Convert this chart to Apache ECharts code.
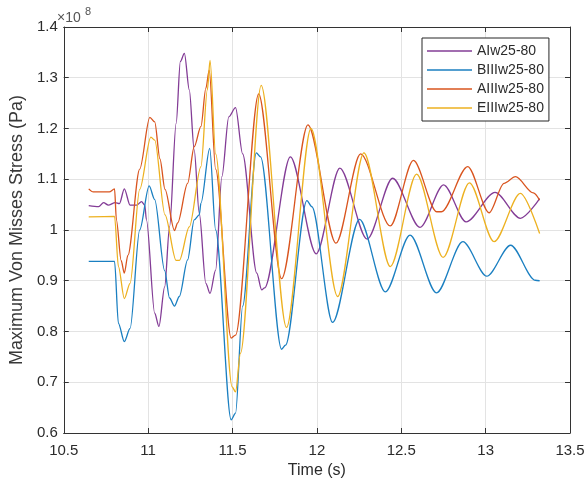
<!DOCTYPE html>
<html>
<head>
<meta charset="utf-8">
<script src="https://cdn.jsdelivr.net/npm/echarts@6.0.0/dist/echarts.min.js"></script>
<style>
html,body{margin:0;padding:0;background:#fff;}
#chart{width:588px;height:485px;}
</style>
</head>
<body>
<div id="chart"></div>
<script>
// Legend names
const seriesNames = ['AIw25-80', 'BIIIw25-80', 'AIIIw25-80', 'EIIIw25-80'];
// x ticks / y ticks (values in units of 1e8 Pa)
const xTicks = [10.5, 11, 11.5, 12, 12.5, 13, 13.5];
const yTicks = [0.6, 0.7, 0.8, 0.9, 1.0, 1.1, 1.2, 1.3, 1.4];

// AIw25-80 (purple)
const timeAI = [10.648,10.707,10.736,10.764,10.805,10.83,10.859,10.893,10.932,10.961,10.98,10.99,11.039,11.064,11.098,11.127,11.166,11.191,11.215,11.244,11.273,11.303,11.342,11.367,11.40,11.437,11.478,11.518,11.56,11.644,11.673,11.69,11.843,11.996,12.136,12.298,12.449,12.611,12.751,12.884,13.056,13.206,13.32];
const valAI  = [1.048,1.046,1.054,1.049,1.054,1.052,1.081,1.049,1.049,1.056,1.049,1.02,0.836,0.81,0.888,1.006,1.21,1.332,1.348,1.276,1.158,1.033,0.895,0.875,0.921,1.105,1.223,1.241,1.15,0.915,0.882,0.886,1.144,0.953,1.122,0.982,1.102,1.005,1.089,1.016,1.074,1.023,1.062];

// BIIIw25-80 (blue)
const timeBIII = [10.648,10.801,10.824,10.859,10.893,10.95,11.006,11.039,11.098,11.127,11.156,11.185,11.234,11.273,11.303,11.313,11.365,11.40,11.492,11.518,11.56,11.641,11.666,11.791,11.814,11.941,11.970,12.093,12.253,12.406,12.552,12.709,12.865,13.007,13.148,13.294,13.32];
const valBIII  = [0.938,0.938,0.816,0.78,0.806,1.0,1.087,1.06,0.92,0.866,0.85,0.869,0.941,1.02,1.03,1.053,1.161,1.0,0.626,0.639,0.85,1.152,1.144,0.765,0.773,1.058,1.046,0.818,1.021,0.878,0.99,0.876,0.977,0.909,0.97,0.901,0.9];

// AIIIw25-80 (red)
const timeAIII = [10.648,10.675,10.72,10.77,10.801,10.812,10.84,10.859,10.88,10.95,11.010,11.039,11.07,11.10,11.156,11.175,11.234,11.273,11.313,11.342,11.362,11.40,11.492,11.518,11.655,11.791,11.947,12.113,12.259,12.435,12.572,12.71,12.738,12.894,13.021,13.109,13.177,13.283,13.32];
const valAIII  = [1.081,1.075,1.075,1.075,1.081,1.02,0.94,0.915,0.95,1.12,1.222,1.213,1.14,1.08,0.999,1.014,1.092,1.164,1.204,1.279,1.315,1.12,0.787,0.793,1.268,0.904,1.207,0.974,1.15,1.008,1.137,1.036,1.036,1.125,1.034,1.092,1.105,1.073,1.059];

// EIIIw25-80 (yellow)
const timeEIII = [10.648,10.801,10.824,10.859,10.893,10.95,11.016,11.039,11.10,11.166,11.185,11.244,11.313,11.351,11.367,11.40,11.498,11.518,11.547,11.670,11.820,11.965,12.123,12.279,12.435,12.591,12.748,12.904,13.050,13.206,13.32];
const valEIII  = [1.026,1.027,0.928,0.865,0.895,1.08,1.183,1.177,1.03,0.94,0.94,1.006,1.125,1.276,1.334,1.15,0.691,0.681,0.757,1.285,0.808,1.2,0.869,1.152,0.928,1.11,0.946,1.093,0.977,1.072,0.993];

const colors = ['#833c96', '#1a7fc1', '#d9541e', '#edb120'];
const times = [timeAI, timeBIII, timeAIII, timeEIII];
const vals = [valAI, valBIII, valAIII, valEIII];

const FONT = '"Liberation Sans", Arial, sans-serif';
const TXT = '#2b2b2b';

const chart = echarts.init(document.getElementById('chart'), null, {renderer: 'canvas'});

const series = seriesNames.map((name, k) => ({
  name: name,
  type: 'line',
  xAxisIndex: 0,
  yAxisIndex: 0,
  showSymbol: false,
  symbol: 'none',
  smooth: 0.3,
  smoothMonotone: 'x',
  lineStyle: {width: 1.3, color: colors[k]},
  itemStyle: {color: colors[k]},
  data: times[k].map((t, i) => [t, vals[k][i]]),
  z: 3
}));

const axisLineStyle = {show: true, lineStyle: {color: '#333', width: 1}};

chart.setOption({
  animation: false,
  backgroundColor: '#fff',
  grid: {left: 58, right: 18, top: 27, bottom: 52, containLabel: false},
  legend: {
    data: seriesNames,
    orient: 'vertical',
    left: 422,
    top: 38,
    itemWidth: 45,
    itemHeight: 14,
    itemGap: 5,
    padding: [6, 5, 6, 5],
    borderColor: '#262626',
    borderWidth: 1,
    backgroundColor: '#fff',
    textStyle: {fontFamily: FONT, fontSize: 14, color: TXT},
    icon: 'path://M0,7 L45,7 L45,8.3 L0,8.3 Z'
  },
  xAxis: [{
    type: 'value',
    min: xTicks[0],
    max: xTicks[xTicks.length - 1],
    interval: 0.5,
    position: 'bottom',
    name: 'Time (s)',
    nameLocation: 'middle',
    nameGap: 30,
    nameTextStyle: {fontFamily: FONT, fontSize: 16, color: TXT},
    axisLine: axisLineStyle,
    axisTick: {show: true, inside: true, length: 5, lineStyle: {color: '#333'}},
    axisLabel: {fontFamily: FONT, fontSize: 15, color: TXT, margin: 10},
    splitLine: {show: true, lineStyle: {color: '#e3e3e3', width: 1}}
  }, {
    type: 'value',
    min: xTicks[0],
    max: xTicks[xTicks.length - 1],
    interval: 0.5,
    position: 'top',
    axisLine: axisLineStyle,
    axisTick: {show: true, inside: true, length: 5, lineStyle: {color: '#333'}},
    axisLabel: {show: false},
    splitLine: {show: false}
  }],
  yAxis: [{
    type: 'value',
    min: yTicks[0],
    max: yTicks[yTicks.length - 1],
    interval: 0.1,
    position: 'left',
    name: 'Maximum Von Misses Stress (Pa)',
    nameLocation: 'middle',
    nameGap: 35,
    nameTextStyle: {fontFamily: FONT, fontSize: 18, color: '#383838'},
    axisLine: axisLineStyle,
    axisTick: {show: true, inside: true, length: 5, lineStyle: {color: '#333'}},
    axisLabel: {fontFamily: FONT, fontSize: 15, color: TXT, margin: 6,
      formatter: v => String(Math.round(v * 10) / 10)},
    splitLine: {show: true, lineStyle: {color: '#e3e3e3', width: 1}}
  }, {
    type: 'value',
    min: yTicks[0],
    max: yTicks[yTicks.length - 1],
    interval: 0.1,
    position: 'right',
    axisLine: axisLineStyle,
    axisTick: {show: true, inside: true, length: 5, lineStyle: {color: '#333'}},
    axisLabel: {show: false},
    splitLine: {show: false}
  }],
  graphic: [
    {type: 'text', left: 57, top: 11, style: {text: '×10', font: '14px "Liberation Sans", Arial', fill: '#555'}},
    {type: 'text', left: 85, top: 6, style: {text: '8', font: '11px "Liberation Sans", Arial', fill: '#555'}}
  ],
  series: series
});
</script>
</body>
</html>
